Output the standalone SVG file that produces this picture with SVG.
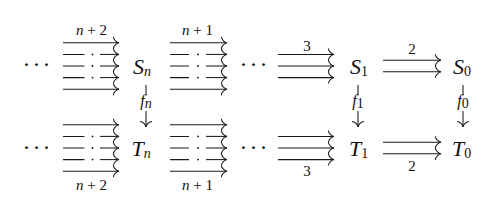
<svg xmlns="http://www.w3.org/2000/svg" width="500" height="216" viewBox="0 0 500 216">
<style>
.ln{stroke:#1a1a1a;stroke-width:1.05;fill:none}
.ar{marker-end:url(#to)}
.m{font-family:"Liberation Serif","DejaVu Serif",serif;font-style:italic;font-size:22px;fill:#111}
.sub{font-style:normal;font-size:14px}
.subi{font-style:italic;font-size:14px}
.lb{font-family:"Liberation Serif","DejaVu Serif",serif;font-size:15px;fill:#111;text-anchor:middle}
.i{font-style:italic}
.fl{font-family:"Liberation Serif","DejaVu Serif",serif;font-style:italic;font-size:16px;fill:#111;text-anchor:middle}
.dots{font-family:"Liberation Serif","DejaVu Serif",serif;font-size:24px;fill:#111;text-anchor:middle}
.dot{fill:#111}
</style>
<defs>
<marker id="to" markerUnits="userSpaceOnUse" viewBox="-7 -7 8 14" refX="0" refY="0" markerWidth="8" markerHeight="14" orient="auto" overflow="visible">
<path d="M-5.6,-6 C-5.5,-3 -2.2,-0.3 0,0 C-2.2,0.3 -5.5,3 -5.6,6" fill="none" stroke="#1a1a1a" stroke-width="1.05"/>
</marker>
</defs>

<g id="dots-top-left"><text class="dots" y="72"><tspan x="26.5">·</tspan><tspan x="36.5">·</tspan><tspan x="46.5">·</tspan></text></g>
<g id="dots-top-mid"><text class="dots" y="72"><tspan x="243.5">·</tspan><tspan x="253.5">·</tspan><tspan x="263.5">·</tspan></text></g>
<g id="dots-bot-left"><text class="dots" y="155"><tspan x="26.5">·</tspan><tspan x="36.5">·</tspan><tspan x="46.5">·</tspan></text></g>
<g id="dots-bot-mid"><text class="dots" y="155"><tspan x="243.5">·</tspan><tspan x="253.5">·</tspan><tspan x="263.5">·</tspan></text></g>

<g id="Sn"><text class="m" x="133" y="73.5">S<tspan class="subi" dy="2">n</tspan></text></g>
<g id="S1"><text class="m" x="350" y="73.5">S<tspan class="sub" dy="2">1</tspan></text></g>
<g id="S0"><text class="m" x="453" y="73.5">S<tspan class="sub" dy="2">0</tspan></text></g>
<g id="Tn"><text class="m" x="131.5" y="156">T<tspan class="subi" dy="2">n</tspan></text></g>
<g id="T1"><text class="m" x="349" y="156">T<tspan class="sub" dy="2">1</tspan></text></g>
<g id="T0"><text class="m" x="452" y="156">T<tspan class="sub" dy="2">0</tspan></text></g>

<g id="connectors">
<path class="ln ar" d="M63,42.8H119"/>
<path class="ln" d="M63,54.4H84.5M63,66H84.5M63,77.6H84.5"/>
<path class="ln ar" d="M100,54.4H119"/>
<path class="ln ar" d="M100,66H119"/>
<path class="ln ar" d="M100,77.6H119"/>
<path class="ln ar" d="M63,89.2H119"/>
<circle class="dot" cx="92.5" cy="54.4" r="0.9"/><circle class="dot" cx="92.5" cy="66" r="0.9"/><circle class="dot" cx="92.5" cy="77.6" r="0.9"/>
<text class="lb" x="91.5" y="35"><tspan class="i">n</tspan> + 2</text>
<path class="ln ar" d="M170,42.8H227"/>
<path class="ln" d="M170,54.4H189M170,66H189M170,77.6H189"/>
<path class="ln ar" d="M206,54.4H227"/>
<path class="ln ar" d="M206,66H227"/>
<path class="ln ar" d="M206,77.6H227"/>
<path class="ln ar" d="M170,89.2H227"/>
<circle class="dot" cx="198" cy="54.4" r="0.9"/><circle class="dot" cx="198" cy="66" r="0.9"/><circle class="dot" cx="198" cy="77.6" r="0.9"/>
<text class="lb" x="197.5" y="35"><tspan class="i">n</tspan> + 1</text>
<path class="ln ar" d="M278,54.4H334"/>
<path class="ln ar" d="M278,66H334"/>
<path class="ln ar" d="M278,77.6H334"/>
<text class="lb" x="307" y="51">3</text>
<path class="ln ar" d="M383,60.2H441"/>
<path class="ln ar" d="M383,71.8H441"/>
<text class="lb" x="412" y="54">2</text>

<path class="ln ar" d="M63,124.8H119"/>
<path class="ln" d="M63,136.4H84.5M63,148H84.5M63,159.6H84.5"/>
<path class="ln ar" d="M100,136.4H119"/>
<path class="ln ar" d="M100,148H119"/>
<path class="ln ar" d="M100,159.6H119"/>
<path class="ln ar" d="M63,171.2H119"/>
<circle class="dot" cx="92.5" cy="136.4" r="0.9"/><circle class="dot" cx="92.5" cy="148" r="0.9"/><circle class="dot" cx="92.5" cy="159.6" r="0.9"/>
<text class="lb" x="91.5" y="190"><tspan class="i">n</tspan> + 2</text>
<path class="ln ar" d="M170,124.8H227"/>
<path class="ln" d="M170,136.4H189M170,148H189M170,159.6H189"/>
<path class="ln ar" d="M206,136.4H227"/>
<path class="ln ar" d="M206,148H227"/>
<path class="ln ar" d="M206,159.6H227"/>
<path class="ln ar" d="M170,171.2H227"/>
<circle class="dot" cx="198" cy="136.4" r="0.9"/><circle class="dot" cx="198" cy="148" r="0.9"/><circle class="dot" cx="198" cy="159.6" r="0.9"/>
<text class="lb" x="197.5" y="190"><tspan class="i">n</tspan> + 1</text>
<path class="ln ar" d="M278,136.4H334"/>
<path class="ln ar" d="M278,148H334"/>
<path class="ln ar" d="M278,159.6H334"/>
<text class="lb" x="307" y="176">3</text>
<path class="ln ar" d="M383,142.2H441"/>
<path class="ln ar" d="M383,153.8H441"/>
<text class="lb" x="412" y="171">2</text>

<path class="ln ar" d="M146,85V127"/>
<rect x="134" y="95" width="24" height="16" fill="#fff"/>
<text class="fl" x="146" y="106">f<tspan class="subi" dy="2" font-size="11">n</tspan></text>
<path class="ln ar" d="M358,85V127"/>
<rect x="348" y="95" width="20" height="16" fill="#fff"/>
<text class="fl" x="358" y="106">f<tspan class="sub" dy="2" font-size="11">1</tspan></text>
<path class="ln ar" d="M463,85V127"/>
<rect x="453" y="95" width="20" height="16" fill="#fff"/>
<text class="fl" x="463" y="106">f<tspan class="sub" dy="2" font-size="11">0</tspan></text>
</g>
</svg>
